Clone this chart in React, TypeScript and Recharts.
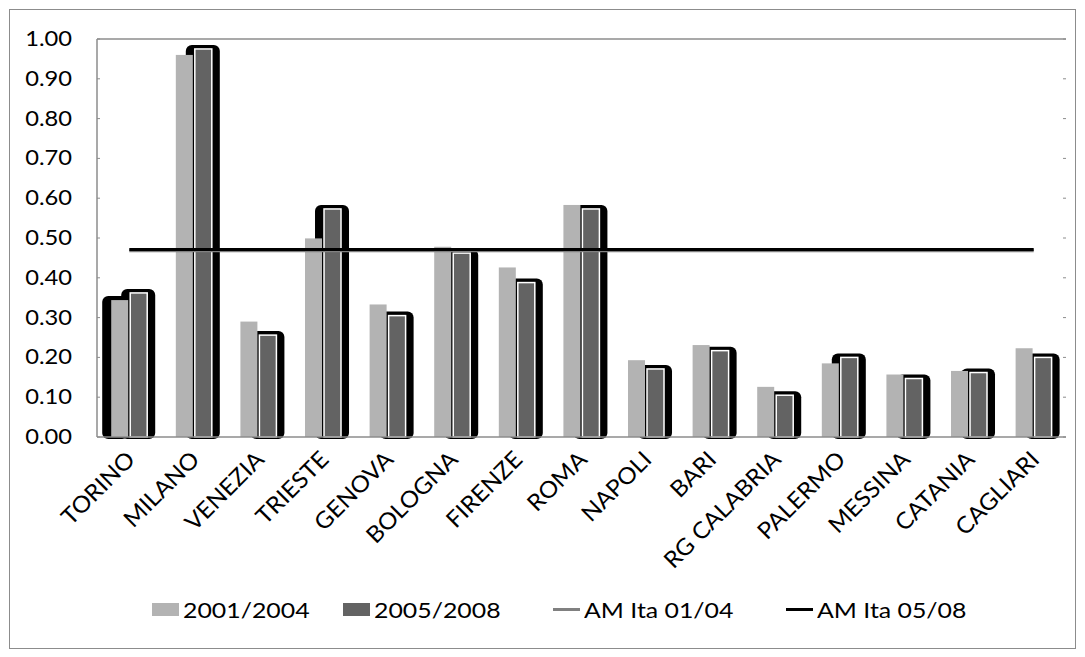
import React from "react";
import {
  ComposedChart,
  Bar,
  Line,
  XAxis,
  YAxis,
  Legend,
  ReferenceLine
} from "recharts";

// Città (categorie dell'asse X)
const cities = [
  "TORINO", "MILANO", "VENEZIA", "TRIESTE", "GENOVA", "BOLOGNA", "FIRENZE", "ROMA",
  "NAPOLI", "BARI", "RG CALABRIA", "PALERMO", "MESSINA", "CATANIA", "CAGLIARI"
];

// 2001/2004
const period0104 = [0.344, 0.960, 0.290, 0.499, 0.333, 0.478, 0.426, 0.583, 0.193, 0.231, 0.126, 0.185, 0.157, 0.166, 0.223];

// 2005/2008
const period0508 = [0.362, 0.975, 0.256, 0.573, 0.305, 0.462, 0.388, 0.573, 0.171, 0.217, 0.105, 0.200, 0.147, 0.162, 0.200];

// medie italiane
const amIta0104 = 0.468;
const amIta0508 = 0.471;

const yTicks = [0, 0.1, 0.2, 0.3, 0.4, 0.5, 0.6, 0.7, 0.8, 0.9, 1.0];

const data = cities.map((city, i) => ({
  city,
  p0104: period0104[i],
  p0508: period0508[i],
  am0104: amIta0104,
  am0508: amIta0508
}));

const FONT = "Lato, 'Open Sans', sans-serif";
const STRETCH = 1.13; // the original text is a bit wider than Lato
const LIGHT = "#b3b3b3";
const DARK = "#636363";
const AXIS = "#8c8c8c";

// light bar: draws the black "glow" of the dark bar behind it first
const LightBarShape = (props: any) => {
  const { x, y, width, height, value, payload, index } = props;
  const pxPerUnit = value ? height / value : 0;
  const base = y + height;
  const darkX = x + width + 2;
  const darkH = payload.p0508 * pxPerUnit;
  const darkY = base - darkH;
  return (
    <g>
      <rect x={darkX - 9} y={darkY - 4} width={width + 17} height={darkH + 6} rx={6} ry={6} fill="#000" />
      {index === 0 && (
        <rect x={x - 9} y={y - 4} width={width + 9} height={height + 6} rx={6} ry={6} fill="#000" />
      )}
      <rect x={x} y={y} width={width} height={height} fill={LIGHT} />
    </g>
  );
};

const DarkBarShape = (props: any) => {
  const { x, y, width, height } = props;
  return <rect x={x} y={y} width={width} height={height} fill={DARK} stroke="#fff" strokeWidth={1.5} />;
};

const LeftTick = (props: any) => {
  const { x, y, payload } = props;
  return (
    <g>
      <line x1={x} y1={y} x2={x + 3} y2={y} stroke={AXIS} strokeWidth={1} />
      <text
        transform={`translate(${x - 25}, ${y + 7}) scale(${STRETCH}, 1)`}
        textAnchor="end"
        fontFamily={FONT}
        fontSize={21}
        fill="#000"
      >
        {payload.value.toFixed(2)}
      </text>
    </g>
  );
};

const RightTick = (props: any) => {
  const { x, y } = props;
  return <line x1={x - 3} y1={y} x2={x} y2={y} stroke={AXIS} strokeWidth={1} />;
};

const CityTick = (props: any) => {
  const { x, y, payload } = props;
  return (
    <text
      transform={`translate(${x + 7}, ${y + 16}) rotate(-45) scale(1.05, 1)`}
      textAnchor="end"
      fontFamily={FONT}
      fontSize={23}
      fill="#000"
    >
      {payload.value}
    </text>
  );
};

const legendItems = [
  { label: "2001/2004", kind: "box", color: LIGHT, left: 152 },
  { label: "2005/2008", kind: "box", color: DARK, left: 343 },
  { label: "AM Ita 01/04", kind: "line", color: "#808080", left: 553 },
  { label: "AM Ita 05/08", kind: "line", color: "#000", left: 786 }
];

const renderLegend = () => (
  <div style={{ position: "relative", height: 40, fontFamily: FONT, fontSize: 22, color: "#000" }}>
    {legendItems.map((it) => (
      <div key={it.label} style={{ position: "absolute", left: it.left, top: 4, display: "flex", alignItems: "center" }}>
        {it.kind === "box" ? (
          <div style={{ width: 27, height: 13, background: it.color, marginRight: 4 }} />
        ) : (
          <div style={{ width: 27, height: 3, background: it.color, marginRight: 4 }} />
        )}
        <span style={{ display: "inline-block", transform: `scaleX(${STRETCH})`, transformOrigin: "left center", whiteSpace: "nowrap" }}>
          {it.label}
        </span>
      </div>
    ))}
  </div>
);

export default function App() {
  return (
    <div style={{ position: "absolute", left: 0, top: 0, width: 1085, height: 657, background: "#fff" }}>
      <div
        style={{
          position: "absolute",
          left: 9,
          top: 9,
          width: 1067,
          height: 640,
          border: `1px solid ${AXIS}`,
          boxSizing: "border-box"
        }}
      />
      <div style={{ position: "absolute", left: 0, top: 0 }}>
        <ComposedChart
          width={1085}
          height={657}
          data={data}
          margin={{ top: 39, right: 0, left: 0, bottom: 0 }}
          barCategoryGap="22%"
          barGap={2}
        >
          <XAxis
            dataKey="city"
            interval={0}
            height={180}
            axisLine={{ stroke: AXIS, strokeWidth: 1.5 }}
            tickLine={false}
            tick={<CityTick />}
          />
          <YAxis
            yAxisId="left"
            domain={[0, 1]}
            ticks={yTicks}
            width={97}
            axisLine={{ stroke: AXIS, strokeWidth: 1.5 }}
            tickLine={false}
            tickSize={0}
            tickMargin={0}
            tick={<LeftTick />}
          />
          <YAxis
            yAxisId="right"
            orientation="right"
            domain={[0, 1]}
            ticks={yTicks}
            width={19}
            axisLine={false}
            tickLine={false}
            tickSize={0}
            tickMargin={0}
            tick={<RightTick />}
          />
          <ReferenceLine yAxisId="left" y={1} stroke={AXIS} strokeWidth={1.5} />
          <Bar yAxisId="left" dataKey="p0104" name="2001/2004" fill={LIGHT} shape={<LightBarShape />} isAnimationActive={false} />
          <Bar yAxisId="left" dataKey="p0508" name="2005/2008" fill={DARK} shape={<DarkBarShape />} isAnimationActive={false} />
          <Line yAxisId="right" type="linear" dataKey="am0104" name="AM Ita 01/04" stroke="#808080" strokeWidth={3} dot={false} isAnimationActive={false} />
          <Line yAxisId="left" type="linear" dataKey="am0508" name="AM Ita 05/08" stroke="#000" strokeWidth={3} dot={false} isAnimationActive={false} />
          <Legend verticalAlign="bottom" height={40} content={renderLegend} wrapperStyle={{ left: 0, width: 1085, top: 592 }} />
        </ComposedChart>
      </div>
    </div>
  );
}
